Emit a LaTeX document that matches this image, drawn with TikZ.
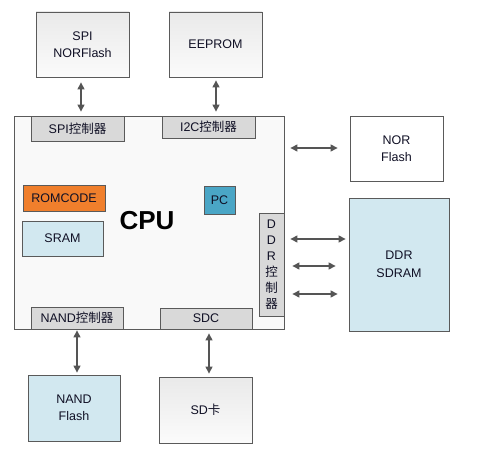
\documentclass[tikz,border=0pt]{standalone}
\usepackage{fontspec}
\setmainfont{Liberation Sans}
\newfontfamily\cjk{Noto Sans CJK SC}
\usetikzlibrary{arrows.meta}
\definecolor{edge}{HTML}{5A5A5A}
\definecolor{arrowc}{HTML}{555555}
\definecolor{ctrl}{HTML}{D9D9D9}
\definecolor{lblue}{HTML}{D2E8F0}
\definecolor{romc}{HTML}{F07F2C}
\definecolor{pcc}{HTML}{4AA6C6}
\definecolor{txt}{HTML}{101025}
\begin{document}
\begin{tikzpicture}[x=1pt,y=-1pt,
  every node/.style={font=\fontsize{12.5}{17.5}\selectfont, text=txt, align=center},
  box/.style={draw=edge, line width=0.8pt, top color=gray!17, bottom color=gray!3, inner sep=0pt},
  plainbox/.style={draw=edge, line width=0.8pt, fill=white, inner sep=0pt},
  bluebox/.style={draw=edge, line width=0.8pt, fill=lblue, inner sep=0pt},
  ctrlbox/.style={draw=edge, line width=0.8pt, fill=ctrl, inner sep=0pt},
  arr/.style={{Triangle[length=7pt,width=7pt]}-{Triangle[length=7pt,width=7pt]}, draw=arrowc, line width=1.1pt}]
\useasboundingbox (0,0) rectangle (484,454);
% CPU main box
\node[draw=edge, line width=0.8pt, fill=gray!5, minimum width=270pt, minimum height=213pt, inner sep=0pt] (cpu) at (149,222.5) {};
\node[font=\fontsize{26}{30}\bfseries, text=black] (cputxt) at (147,221) {CPU};
% outer devices
\node[box, minimum width=93pt, minimum height=65pt] (spiflash) at (82.5,44.5) {SPI\\NORFlash};
\node[box, minimum width=93pt, minimum height=65pt] (eeprom) at (215.5,44.5) {EEPROM};
\node[plainbox, minimum width=93pt, minimum height=65pt] (nor) at (396.5,148.5) {NOR\\Flash};
\node[bluebox, minimum width=100pt, minimum height=133pt] (ddr) at (399,264.5) {DDR\\SDRAM};
\node[bluebox, minimum width=92pt, minimum height=66pt] (nand) at (74,408) {NAND\\Flash};
\node[box, minimum width=93pt, minimum height=66pt] (sd) at (205.5,410) {SD{\cjk 卡}};
% controllers
\node[ctrlbox, minimum width=93pt, minimum height=25pt] (spic) at (77.5,128.5) {SPI{\cjk 控制器}};
\node[ctrlbox, minimum width=93pt, minimum height=22pt] (i2c) at (208.5,127) {I2C{\cjk 控制器}};
\node[ctrlbox, minimum width=92pt, minimum height=22pt] (nandc) at (77,318) {NAND{\cjk 控制器}};
\node[ctrlbox, minimum width=92pt, minimum height=21pt] (sdc) at (206,318.5) {SDC};
\node[ctrlbox, minimum width=25pt, minimum height=103pt] (ddrc) at (271.5,264.5) {};
\node[font=\fontsize{12.5}{16}\selectfont, text=txt] (ddrctxt) at (271.5,265) {D\\D\\R\\{\cjk 控}\\{\cjk 制}\\{\cjk 器}};
% inner blocks
\node[draw=edge, line width=0.8pt, fill=romc, minimum width=82pt, minimum height=26pt, inner sep=0pt] (rom) at (64,198) {ROMCODE};
\node[bluebox, minimum width=81pt, minimum height=35pt] (sram) at (62.5,238.5) {SRAM};
\node[draw=edge, line width=0.8pt, fill=pcc, minimum width=31pt, minimum height=28pt, inner sep=0pt] (pc) at (219.5,200) {PC};
% connectors
\draw[arr, shorten <=5pt, shorten >=4pt] (spiflash.south -| 81,0) -- (spic.north -| 81,0);
\draw[arr, shorten <=3pt, shorten >=4pt] (eeprom.south -| 216,0) -- (i2c.north -| 216,0);
\draw[arr, shorten <=6pt, shorten >=12pt] (cpu.east |- 0,148) -- (nor.west |- 0,148);
\draw[arr, shorten <=6pt, shorten >=3pt] (ddrc.east |- 0,239) -- (ddr.west |- 0,239);
\draw[arr, shorten <=8pt, shorten >=13pt] (ddrc.east |- 0,266) -- (ddr.west |- 0,266);
\draw[arr, shorten <=8pt, shorten >=11pt] (ddrc.east |- 0,294) -- (ddr.west |- 0,294);
\draw[arr, shorten <=1pt, shorten >=2pt] (nandc.south -| 77,0) -- (nand.north -| 77,0);
\draw[arr, shorten <=4pt, shorten >=3pt] (sdc.south -| 209,0) -- (sd.north -| 209,0);
\end{tikzpicture}
\end{document}
